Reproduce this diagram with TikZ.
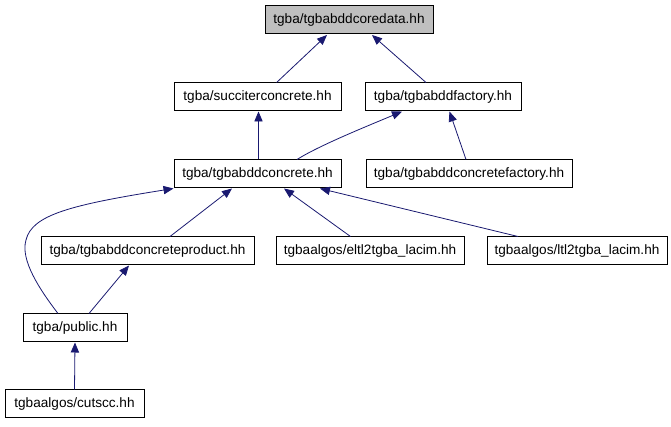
\documentclass[tikz,border=0pt]{standalone}
\usepackage{fontspec}
\setmainfont{Liberation Sans}
\usetikzlibrary{arrows.meta}
\definecolor{edgecol}{HTML}{191970}
\definecolor{topfill}{HTML}{BFBFBF}
\tikzset{
  box/.style={draw=black, line width=0.75pt, fill=white, minimum height=21pt, inner sep=0pt, font=\fontsize{10.2}{12}\selectfont, anchor=center},
  edge/.style={draw=edgecol, line width=0.6pt, -{Stealth[length=7.5pt, width=6.2pt, inset=0pt]}},
}
\begin{document}
\begin{tikzpicture}[x=0.75pt, y=-0.75pt]
\useasboundingbox (0,0) rectangle (671,427);
\node[box, fill=topfill, minimum width=126pt] (top) at (349,20) {tgba/tgbabddcoredata.hh};
\node[box, minimum width=125.25pt] (succ) at (257.5,97) {tgba/succiterconcrete.hh};
\node[box, minimum width=117pt] (fact) at (443,97) {tgba/tgbabddfactory.hh};
\node[box, minimum width=125.25pt] (conc) at (257.5,174) {tgba/tgbabddconcrete.hh};
\node[box, minimum width=154.5pt] (cfact) at (469,174) {tgba/tgbabddconcretefactory.hh};
\node[box, minimum width=159.75pt] (prod) at (147.5,251) {tgba/tgbabddconcreteproduct.hh};
\node[box, minimum width=141pt] (eltl) at (370,251) {tgbaalgos/eltl2tgba\_lacim.hh};
\node[box, minimum width=135pt] (ltl) at (577,251) {tgbaalgos/ltl2tgba\_lacim.hh};
\node[box, minimum width=78pt] (pub) at (75,328) {tgba/public.hh};
\node[box, minimum width=104.25pt] (cut) at (74.5,404) {tgbaalgos/cutscc.hh};

\coordinate (tA) at (327,35);
\coordinate (tB) at (372,35);
\draw[edge] (succ.north -| 276.6,0) -- (tA);
\draw[edge] (fact.north -| 426,0) -- (tB);
\draw[edge] (conc.north -| 258.5,0) -- (succ.south -| 258.5,0);
\draw[edge] (conc.north -| 297,0) .. controls (320,145) and (370,125) .. (fact.south -| 402,0);
\draw[edge] (cfact.north -| 466,0) -- (fact.south -| 449.5,0);
\draw[edge] (prod.north -| 170,0) -- (conc.south -| 232,0);
\draw[edge] (eltl.north -| 350.5,0) -- (conc.south -| 284,0);
\draw[edge] (ltl.north -| 518,0) -- (conc.south -| 320,0);
\draw[edge] (pub.north -| 58,0) .. controls (40,290) and (20,260) .. (26,240) .. controls (32,215) and (70,205) .. (conc.south west);
\draw[edge] (pub.north -| 89,0) -- (prod.south -| 129,0);
\draw[edge] (cut.north) -- (pub.south);
\end{tikzpicture}
\end{document}
